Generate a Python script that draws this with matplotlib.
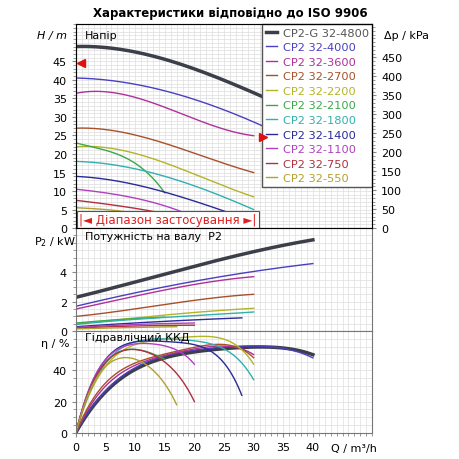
import matplotlib
matplotlib.use("Agg")
import matplotlib.pyplot as plt
import numpy as np
from matplotlib.ticker import MultipleLocator

names = ["CP2-G 32-4800","CP2 32-4000","CP2 32-3600","CP2 32-2700","CP2 32-2200","CP2 32-2100",
         "CP2 32-1800","CP2 32-1400","CP2 32-1100","CP2 32-750","CP2 32-550"]
colors = ["#3c3f4a","#4a3fc0","#b0309a","#a8502a","#b4b428","#3aa84a","#30b0b0","#2a2a9a","#b040c0","#b03040","#b0a030"]

head_q = [[0,10,20,30,35,40],[0,5,15,25,31.5,40],[0,5,15,22,30],[0,5,15,22,30],[0,7,15,22,30],
          [0,5,12,15],[0,10,17,24,30],[0,7,15,22,28],[0,7,15,20],[0,5,13,20],[0,5,10,17]]
head_h = [[49,47.5,43,36.5,33,29.5],[40.5,40,37,32,27.5,21],[36.5,36.5,33,28,25],[27,26.5,23,19,15],
          [22,21,18,13,8.5],[23,21,15,9.5],[18,16,13,9,5],[14,12.5,10,6,3],[10.5,9,6,3],[7.5,6.5,4.5,2],[5.5,5,4,1]]

pow_q = [[0,7,15,22,30,40],[0,8,15,22,30,40],[0,8,15,22,30],[0,8,15,22,30],[0,10,18,30],[0,8,15],
         [0,10,20,30],[0,12,28],[0,10,20],[0,10,20],[0,10,17]]
pow_p = [[2.3,3.0,3.9,4.6,5.4,6.2],[1.7,2.4,3.0,3.6,4.0,4.6],[1.5,2.2,2.8,3.3,3.7],[1.0,1.4,1.8,2.2,2.5],
         [0.5,0.9,1.2,1.55],[0.55,0.8,0.95],[0.45,0.8,1.05,1.3],[0.3,0.6,0.9],[0.25,0.45,0.55],[0.2,0.35,0.4],[0.15,0.25,0.3]]

eff_q = [[0,5,12,20,28,33,40],[0,5,12,20,27,33,40],[0,5,13,20,25,30],[0,5,13,20,25,30],[0,4,10,18,24,30],
         [0,4,8,10,13,15],[0,4,9,16,23,30],[0,4,8,14,20,28],[0,4,9,13,17,20],[0,4,8,11,15,20],[0,4,7,9,13,17]]
eff_e = [[0,27,43,52,55,54,50],[0,28,44,53,56,54,48],[0,30,47,54,55,50],[0,32,48,55,56,48],[0,38,55,62,60,44],
         [0,40,52,54,50,47],[0,40,55,61,56,34],[0,42,55,59,56,24],[0,42,55,58,52,44],[0,40,52,53,45,20],[0,38,47,48,40,18]]

def fit(x, y, deg):
    x = np.array(x, float); y = np.array(y, float)
    d = min(deg, len(x)-1)
    c = np.polyfit(x, y, d)
    xs = np.linspace(x[0], x[-1], 150)
    return xs, np.polyval(c, xs)

fig = plt.figure(figsize=(4.6,4.6), dpi=100)
L, W = 0.165, 0.644
axH = fig.add_axes([L,0.502,W,0.443])
axP = fig.add_axes([L,0.278,W,0.224])
axE = fig.add_axes([L,0.0565,W,0.222])

def style(ax, ymax, major, minor):
    ax.set_xlim(0,50); ax.set_ylim(0,ymax)
    ax.set_xticks(range(0,41,5))
    ax.xaxis.set_minor_locator(MultipleLocator(1))
    ax.yaxis.set_minor_locator(MultipleLocator(minor))
    ax.grid(True, which='both', color='#dddddd', lw=0.5)
    ax.tick_params(labelsize=8, length=3, color='#888888')
    ax.tick_params(which='minor', length=2, color='#888888')
    for s in ax.spines.values(): s.set_color('#777777'); s.set_linewidth(0.8)
    ax.set_axisbelow(True)

style(axH, 55, 5, 1); style(axP, 7, 2, 0.5); style(axE, 65, 20, 5)
for ax in (axH, axP): ax.tick_params(labelbottom=False)
axP.set_yticks([0,2,4]); axE.set_yticks([0,20,40])
axH.set_yticks([0,5,10,15,20,25,30,35,40,45])

for i in range(len(names)):
    lw = 2.5 if i == 0 else 1.0
    x,y = fit(head_q[i], head_h[i], 3); axH.plot(x,y,color=colors[i],lw=lw,label=names[i])
    x,y = fit(pow_q[i], pow_p[i], 3); axP.plot(x,y,color=colors[i],lw=lw)
    x,y = fit(eff_q[i], eff_e[i], 4); axE.plot(x,y,color=colors[i],lw=lw)

leg = axH.legend(loc='upper right', fontsize=8.2, framealpha=1, edgecolor='#555555', fancybox=False,
                 handlelength=1.0, handletextpad=0.5, borderaxespad=0, labelspacing=0.4, borderpad=0.3)
leg.set_zorder(5)
for t, c in zip(leg.get_texts(), colors):
    t.set_color(c if c != "#3c3f4a" else "#555555")

axH.text(0.6,0.5,"|◄ Діапазон застосування ►|", color='#e02020', fontsize=8.5, va='bottom', zorder=6,
         bbox=dict(facecolor='white', edgecolor='#555555', lw=0.8, pad=1.5))
axH.plot([0.8],[44.5], marker='<', color='#e01010', ms=6, zorder=6, clip_on=False)
axH.plot([31.5],[24.5], marker='>', color='#e01010', ms=6, zorder=7)

axH.text(1.5,53.5,"Напір",fontsize=8,va='top')
axP.text(1.5,6.8,"Потужність на валу  P2",fontsize=8,va='top')
axE.text(1.5,64,"Гідравлічний ККД",fontsize=8,va='top')

fig.text(0.08,0.915,"H / m",fontsize=8,style='italic')
fig.text(0.075,0.468,"P$_2$ / kW",fontsize=8)
fig.text(0.09,0.245,"η / %",fontsize=8)
fig.text(0.72,0.018,"Q / m³/h",fontsize=8)

ax2 = axH.twinx()
ax2.set_ylim(0,55*9.77)
ax2.yaxis.set_minor_locator(MultipleLocator(10))
ax2.set_yticks(range(0,451,50))
ax2.tick_params(labelsize=8, length=3, color='#888888')
ax2.tick_params(which='minor', length=2, color='#888888')
fig.text(0.835,0.915,"Δp / kPa",fontsize=8)

fig.suptitle("Характеристики відповідно до ISO 9906", fontsize=8.5, fontweight='bold', y=0.985)
fig.savefig("out.png", dpi=100)
